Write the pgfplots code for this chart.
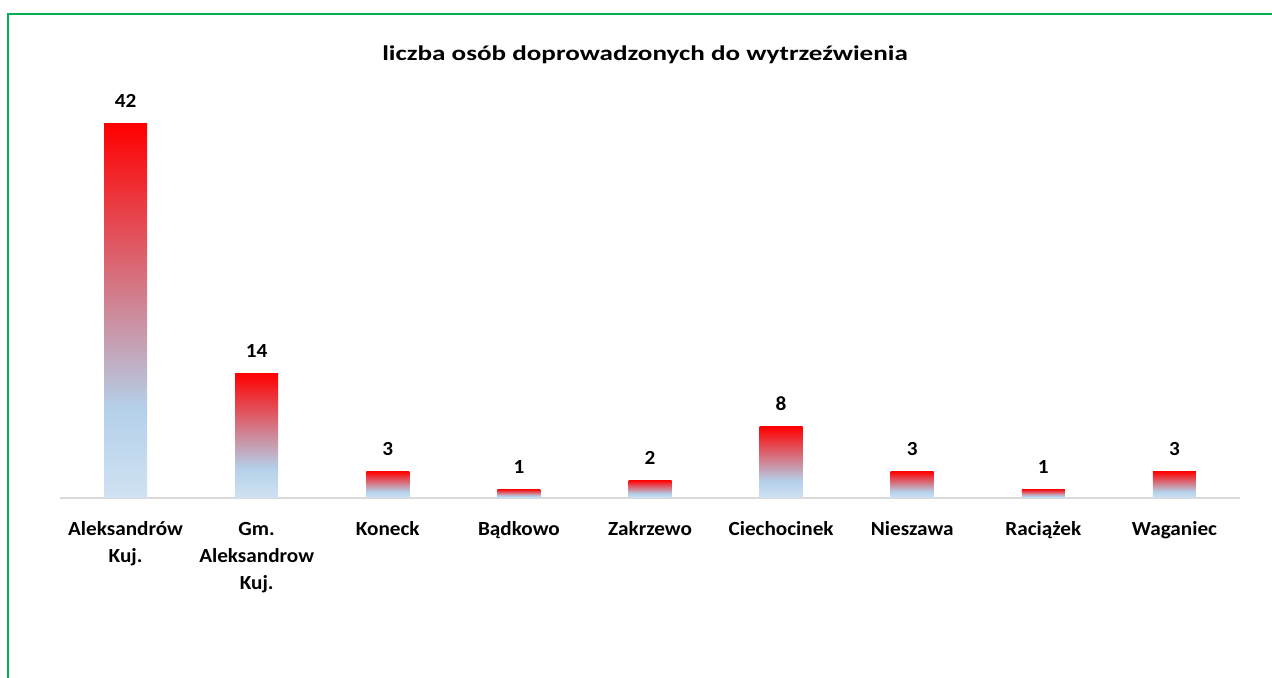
\documentclass[border=0pt]{standalone}
\usepackage{fontspec}
\setmainfont{Carlito}[FakeStretch=1.06]
\newfontfamily\titlefont{Carlito}[FakeStretch=1.29]
\usepackage{pgfplots}
\pgfplotsset{compat=1.18}
\definecolor{xlgreen}{RGB}{0,176,80}
\definecolor{barred}{RGB}{255,0,0}
\definecolor{barblue}{RGB}{180,208,233}
\definecolor{barblue2}{RGB}{208,226,243}
\definecolor{axgray}{RGB}{217,217,217}
\pgfdeclareverticalshading{barshade}{100bp}{color(0bp)=(barblue2); color(25bp)=(barblue2); color(37bp)=(barblue); color(75bp)=(barred); color(100bp)=(barred)}
\pgfplotsset{barstyle/.style={ybar, bar width=21.5pt, draw=none, shade, shading=barshade}}
\begin{document}
\begin{tikzpicture}
\path[use as bounding box, fill=white] (0,0) rectangle (636pt,339pt);
\draw[xlgreen, line width=1pt] (3.75pt,0) -- (3.75pt,331.75pt) -- (636pt,331.75pt);
\node[font=\titlefont\bfseries\fontsize{10.5}{12}\selectfont] at (322.5pt,311.5pt) {liczba osób doprowadzonych do wytrzeźwienia};
\begin{axis}[
  at={(30pt,90pt)}, anchor=south west,
  scale only axis, width=590pt, height=187pt,
  xmin=-0.5, xmax=8.5, ymin=0, ymax=42,
  axis x line*=bottom, axis y line=none,
  x axis line style={draw=axgray, line width=0.8pt},
  xtick={0,...,8}, xtick style={draw=none}, ytick=\empty,
  xticklabels={{Aleksandrów\\Kuj.},{Gm.\\Aleksandrow\\Kuj.},Koneck,Bądkowo,Zakrzewo,Ciechocinek,Nieszawa,Raciążek,Waganiec},
  xticklabel style={font=\bfseries\fontsize{10}{13.5}\selectfont, align=center, text width=90pt, yshift=-6pt, execute at begin node=\strut},
  clip=false,
  /pgf/number format/assume math mode=true,
  nodes near coords,
  every node near coord/.append style={font=\bfseries\fontsize{10}{12}\selectfont, yshift=4.5pt},
]
\addplot[barstyle] coordinates {(0,42)};
\addplot[barstyle] coordinates {(1,14)};
\addplot[barstyle] coordinates {(2,3)};
\addplot[barstyle] coordinates {(3,1)};
\addplot[barstyle] coordinates {(4,2)};
\addplot[barstyle] coordinates {(5,8)};
\addplot[barstyle] coordinates {(6,3)};
\addplot[barstyle] coordinates {(7,1)};
\addplot[barstyle] coordinates {(8,3)};
\end{axis}
\end{tikzpicture}
\end{document}
